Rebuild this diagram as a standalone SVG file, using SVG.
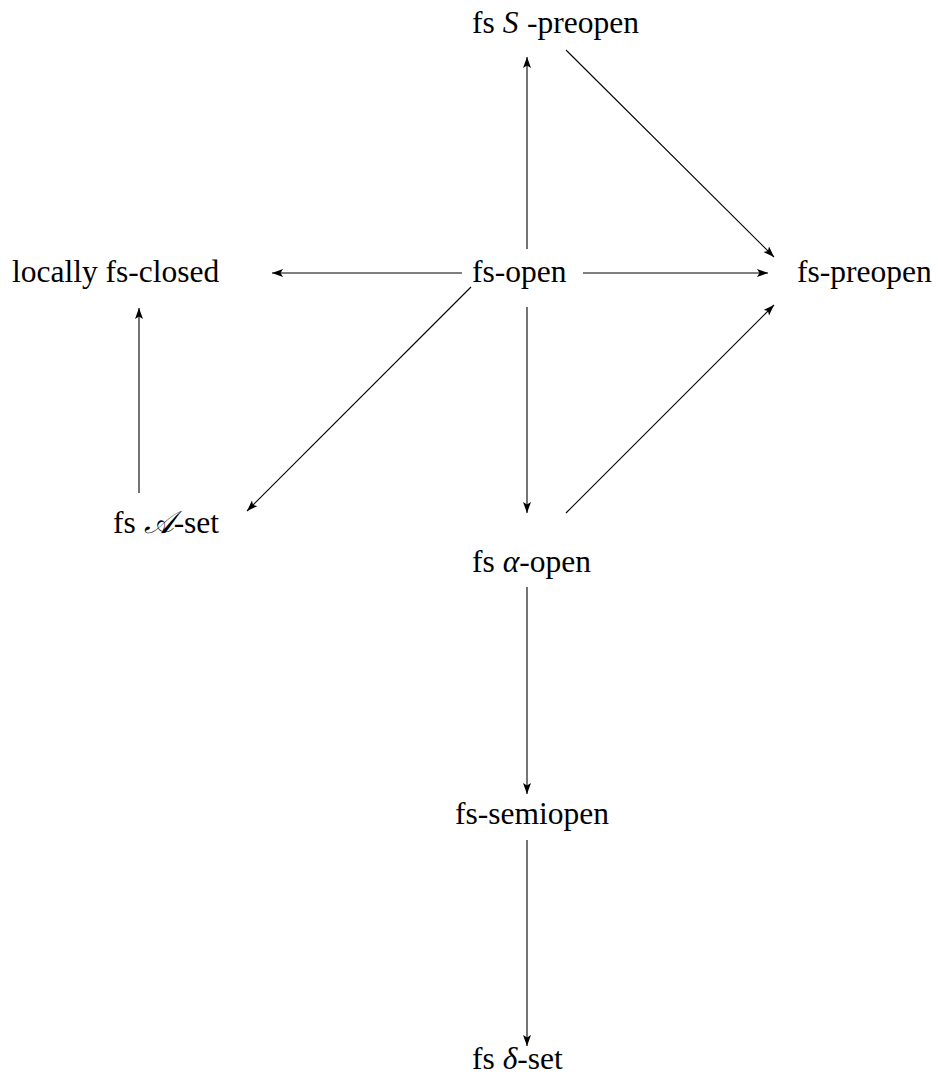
<svg xmlns="http://www.w3.org/2000/svg" width="938" height="1082" viewBox="0 0 938 1082">
<style>
.t{font-family:'Liberation Serif','DejaVu Serif',serif;font-size:31.5px;fill:#000}
.it{font-style:italic}
.edge line{stroke:#000;stroke-width:1.1;marker-end:url(#ah)}
</style>
<defs>
<marker id="ah" markerUnits="userSpaceOnUse" markerWidth="12" markerHeight="10" viewBox="0 0 12 10" refX="11" refY="4" orient="auto">
<path d="M0,0 L11,4 L0,8 L2.5,4 Z" fill="#000"/>
</marker>
</defs>
<rect width="938" height="1082" fill="#fff"/>
<g class="edge" id="connectors">
<line x1="527" y1="249" x2="527" y2="57"/>
<line x1="566" y1="50" x2="774" y2="257"/>
<line x1="462" y1="273" x2="272" y2="273"/>
<line x1="583" y1="273" x2="768" y2="273"/>
<line x1="527" y1="307" x2="527" y2="513"/>
<line x1="471" y1="287" x2="247" y2="511"/>
<line x1="139" y1="493" x2="139" y2="308"/>
<line x1="566" y1="513" x2="774" y2="305"/>
<line x1="527" y1="587" x2="527" y2="794"/>
<line x1="527" y1="840" x2="527" y2="1046"/>
</g>
<g id="n-spreopen"><text class="t" font-family="Liberation Serif, serif" x="472" y="33">fs <tspan class="it">S</tspan><tspan x="527">-preopen</tspan></text></g>
<g id="n-locally"><text class="t" font-family="Liberation Serif, serif" x="12" y="282">locally fs-closed</text></g>
<g id="n-fsopen"><text class="t" font-family="Liberation Serif, serif" x="472" y="282">fs-open</text></g>
<g id="n-preopen"><text class="t" font-family="Liberation Serif, serif" x="797" y="282">fs-preopen</text></g>
<g id="n-aset"><text class="t" font-family="Liberation Serif, serif" x="113" y="533">fs <tspan class="it">𝒜</tspan>-set</text></g>
<g id="n-alpha"><text class="t" font-family="Liberation Serif, serif" x="472" y="572">fs <tspan class="it">α</tspan>-open</text></g>
<g id="n-semiopen"><text class="t" font-family="Liberation Serif, serif" x="455" y="824">fs-semiopen</text></g>
<g id="n-delta"><text class="t" font-family="Liberation Serif, serif" x="472" y="1069">fs <tspan class="it">δ</tspan>-set</text></g>
</svg>
